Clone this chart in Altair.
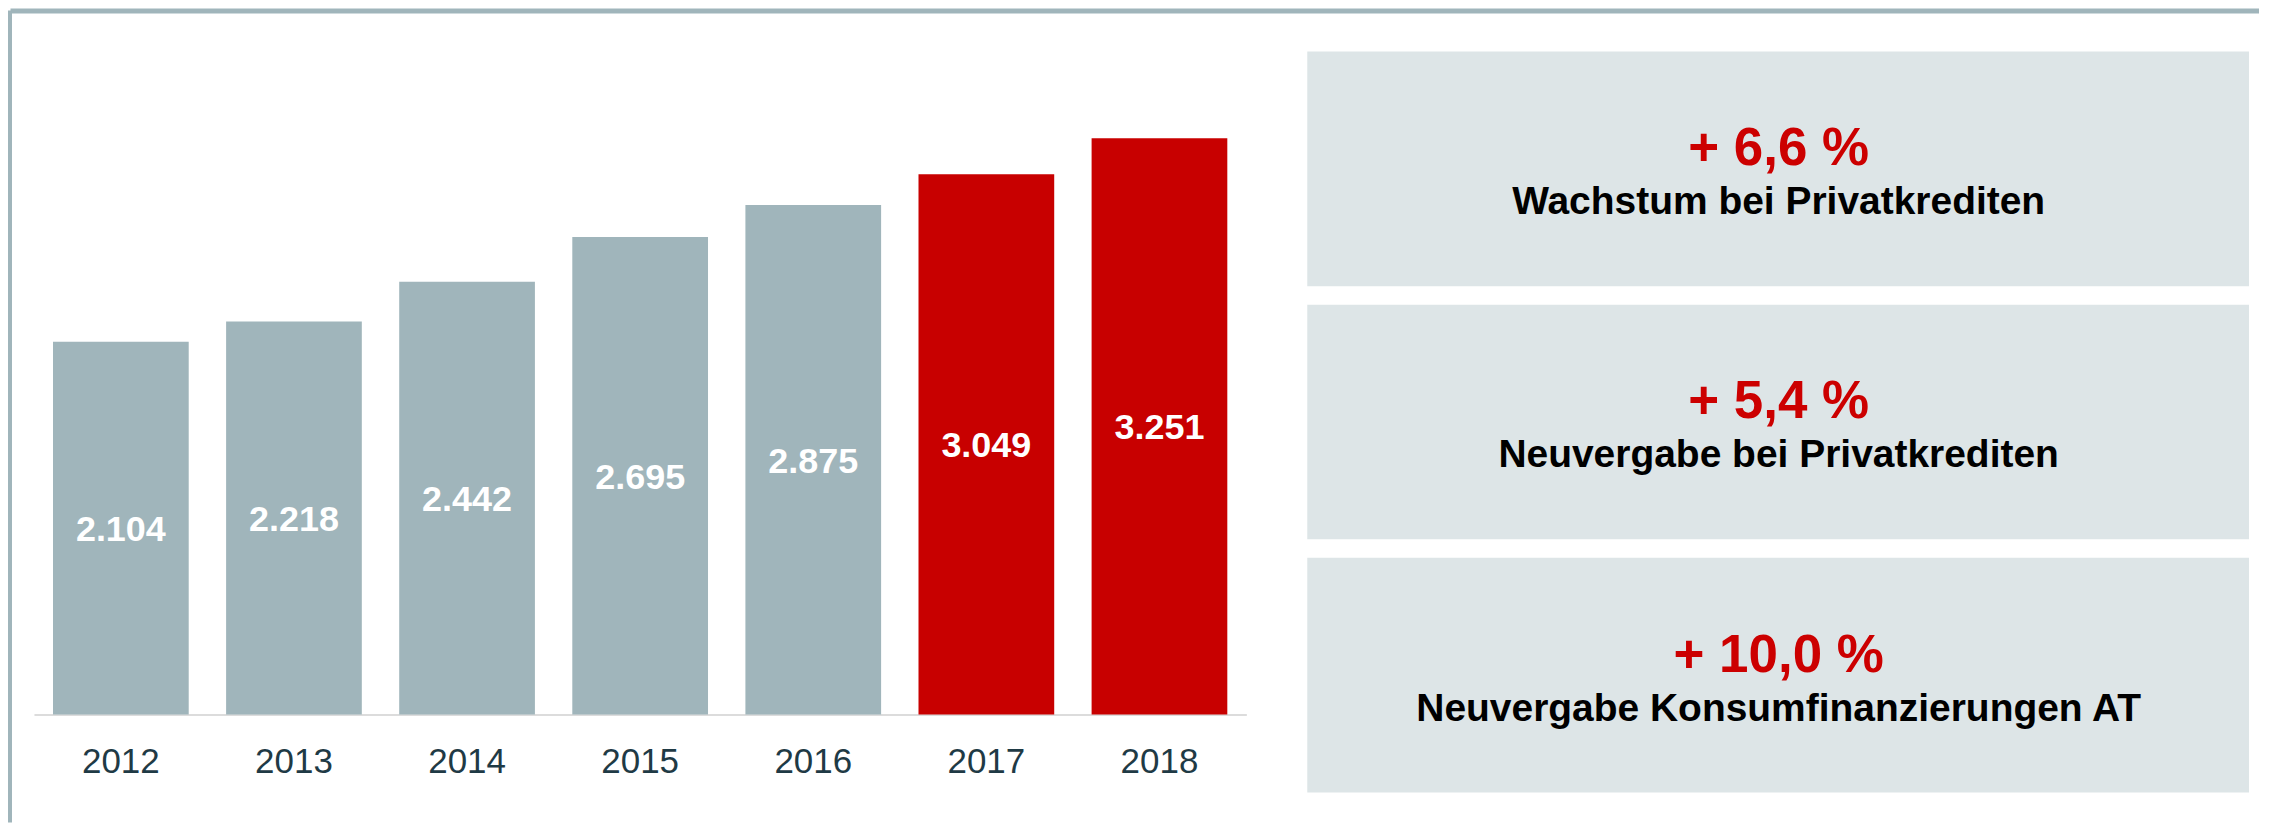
import altair as alt
import pandas as pd

# ---- data ----
years = ["2012", "2013", "2014", "2015", "2016", "2017", "2018"]
values = [2104, 2218, 2442, 2695, 2875, 3049, 3251]
groups = ["hist", "hist", "hist", "hist", "hist", "cur", "cur"]

panel_ids = ["p1", "p2", "p3"]
panel_pcts = ["+ 6,6 %", "+ 5,4 %", "+ 10,0 %"]
panel_descs = [
    "Wachstum bei Privatkrediten",
    "Neuvergabe bei Privatkrediten",
    "Neuvergabe Konsumfinanzierungen AT",
]

GRAY = "#a0b5bb"
RED = "#c80000"
BOX = "#dde5e7"
FONT = "Liberation Sans"

bars_df = pd.DataFrame({
    "year": years,
    "value": values,
    "group": groups,
    "label": [f"{v:,}".replace(",", ".") for v in values],
})
panels_df = pd.DataFrame({"id": panel_ids, "pct": panel_pcts, "desc": panel_descs})

W, H = 2254, 707

x_enc = alt.X(
    "year:N",
    sort=years,
    scale=alt.Scale(range=[26, 1240], paddingInner=0.216, paddingOuter=0.11),
    axis=alt.Axis(
        title=None, labelAngle=0, labelFont=FONT, labelFontSize=35,
        labelColor="#1f3a45", labelPadding=30, ticks=False, tickSize=0,
        domainColor="#dcdcdc", domainWidth=2, grid=False, labelOverlap=False,
    ),
)
y_scale = alt.Scale(domain=[0, 3983.4], nice=False, zero=True)

base = alt.Chart(bars_df)
bars = base.mark_bar().encode(
    x=x_enc,
    y=alt.Y("value:Q", scale=y_scale, axis=None),
    color=alt.Color("group:N", scale=alt.Scale(domain=["hist", "cur"], range=[GRAY, RED]), legend=None),
)
labels = base.transform_calculate(half="datum.value / 2").mark_text(
    font=FONT, fontSize=36, fontWeight="bold", color="white", baseline="middle", dy=2
).encode(
    x=alt.X("year:N", sort=years),
    y=alt.Y("half:Q", scale=y_scale, axis=None),
    text="label:N",
)
bar_layer = alt.layer(bars, labels)

y_box = alt.Y(
    "id:N", sort=panel_ids,
    scale=alt.Scale(range=[43, 785], paddingInner=0.073, paddingOuter=0),
    axis=None,
)
pbase = alt.Chart(panels_df)
boxes = pbase.mark_rect(color=BOX).encode(
    y=y_box, x=alt.value(1301), x2=alt.value(2244)
)
pct_text = pbase.mark_text(
    font=FONT, fontSize=53, fontWeight="bold", color="#cc0000",
    baseline="alphabetic", align="center", dy=-3.5,
).encode(y=y_box, x=alt.value(1773), text="pct:N")
desc_text = pbase.mark_text(
    font=FONT, fontSize=39, fontWeight="bold", color="black",
    baseline="alphabetic", align="center", dy=45.5,
).encode(y=y_box, x=alt.value(1773), text="desc:N")
panel_layer = alt.layer(boxes, pct_text, desc_text)

one = alt.Data(values=[{"k": 1}])
border_top = alt.Chart(one).mark_rule(color=GRAY, strokeWidth=5).encode(
    x=alt.value(2.5), x2=alt.value(W), y=alt.value(2.5)
)
border_left = alt.Chart(one).mark_rule(color=GRAY, strokeWidth=4).encode(
    x=alt.value(2), y=alt.value(2), y2=alt.value(815)
)

chart = alt.layer(border_top, border_left, bar_layer, panel_layer).resolve_scale(
    y="independent", x="independent"
).properties(
    width=W, height=H, padding=0, background="white"
).configure_view(strokeWidth=0)

chart.save("out.html", embed_options={"renderer": "svg", "actions": False})
